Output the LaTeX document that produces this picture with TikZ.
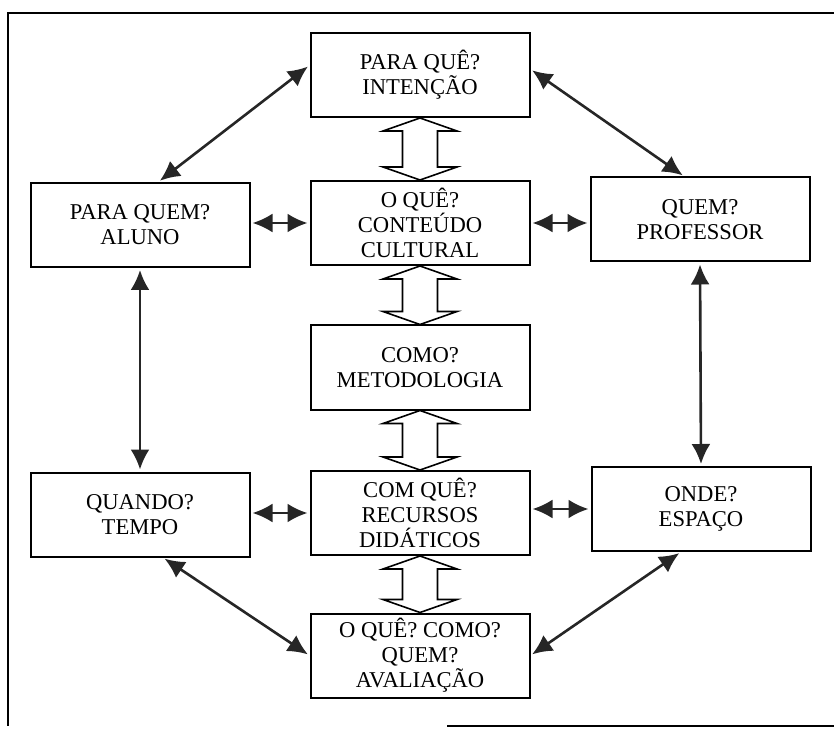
\documentclass[tikz,border=0pt]{standalone}
\usepackage{fontspec}
\setmainfont{Liberation Serif}
\usetikzlibrary{arrows.meta, calc}

\tikzset{
  box/.style={draw, line width=1pt, minimum width=109.5pt, minimum height=42pt,
    inner sep=0pt, align=center, font=\fontsize{11.3}{12.5}\selectfont},
  link/.style={{Latex[length=10pt,width=9.5pt]}-{Latex[length=10pt,width=9.5pt]},
    line width=1.3pt, black!85, shorten <=1pt, shorten >=1pt},
  hollow/.style={draw, fill=white, line width=0.8pt, line join=miter}
}

% open double arrow between a box and the box below it
\newcommand{\hollowlink}[2]{%
  \path[hollow] (#1.south) -- ++(18.5pt,-6.5pt) -- ++(-9.75pt,0pt)
    -- ([shift={(8.75pt,6.5pt)}]#2.north) -- ++(9.75pt,0pt) -- (#2.north)
    -- ++(-18.5pt,6.5pt) -- ++(9.75pt,0pt)
    -- ([shift={(-8.75pt,-6.5pt)}]#1.south) -- ++(-9.75pt,0pt) -- cycle;}

\begin{document}
\begin{tikzpicture}[x=0.5pt, y=-0.5pt]
    \useasboundingbox (0,0) rectangle (834,732);
    % Frame
    \draw[line width=0.7pt] (834,13) -- (8,13) -- (8,726);
    \draw[line width=0.7pt] (447,726) -- (834,726);

    % Central column
    \node[box] (intencao) at (420,75) {PARA QUÊ?\\INTENÇÃO};
    \node[box] (conteudo) at (420,223) {O QUÊ?\\CONTEÚDO\\CULTURAL};
    \node[box] (metodologia) at (420,367.5) {COMO?\\METODOLOGIA};
    \node[box] (recursos) at (420,513) {COM QUÊ?\\RECURSOS\\DIDÁTICOS};
    \node[box] (avaliacao) at (420,655.5) {O QUÊ? COMO?\\QUEM?\\AVALIAÇÃO};

    % Side boxes
    \node[box] (aluno) at (140,225) {PARA QUEM?\\ALUNO};
    \node[box] (professor) at (700,219.5) {QUEM?\\PROFESSOR};
    \node[box] (tempo) at (140,514.5) {QUANDO?\\TEMPO};
    \node[box] (espaco) at (701,509) {ONDE?\\ESPAÇO};

    % Open arrows down the middle
    \hollowlink{intencao}{conteudo}
    \hollowlink{conteudo}{metodologia}
    \hollowlink{metodologia}{recursos}
    \hollowlink{recursos}{avaliacao}

    % Solid arrows
    \draw[link] (intencao.175) -- (aluno.67);
    \draw[link] (intencao.3) -- (professor.110);
    \draw[link] (aluno.east |- conteudo.west) -- (conteudo.west);
    \draw[link] (conteudo.east) -- (professor.west |- conteudo.east);
    \draw[link] (aluno.south) -- (tempo.north);
    \draw[link] (professor.south) -- (espaco.north);
    \draw[link] (tempo.east |- recursos.west) -- (recursos.west);
    \draw[link] (recursos.east |- espaco.west) -- (espaco.west);
    \draw[link] (tempo.-62) -- (avaliacao.west);
    \draw[link] (espaco.-115) -- (avaliacao.east);
\end{tikzpicture}
\end{document}
